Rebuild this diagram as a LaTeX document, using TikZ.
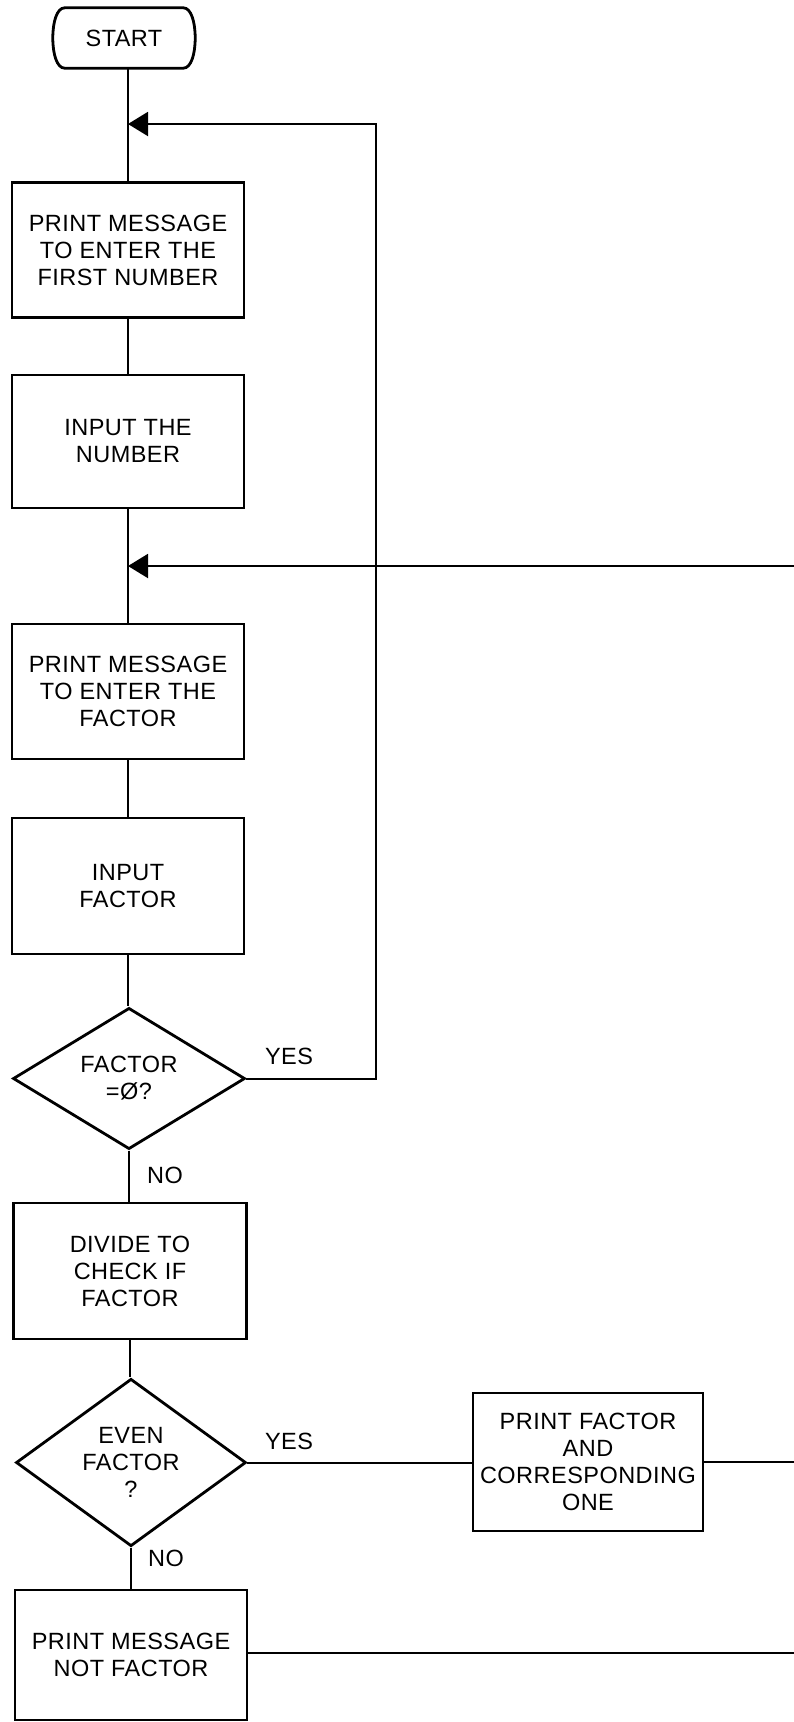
\documentclass[tikz,border=0pt]{standalone}
\usepackage{fontspec}
\setmainfont[LetterSpace=2]{Liberation Sans}
\usetikzlibrary{shapes.geometric,arrows.meta}
\newcommand{\chartfont}{\fontsize{23.5}{27}\selectfont}
\begin{document}
\begin{tikzpicture}[x=1pt,y=-1pt,
  box/.style={draw,line width=2.8pt,rectangle,minimum width=232pt,minimum height=135pt,align=center,inner sep=0pt,font=\chartfont},
  decision/.style={draw,line width=2.8pt,diamond,minimum width=232pt,minimum height=135pt,align=center,inner sep=0pt,font=\chartfont},
  conn/.style={line width=2pt},
  loopback/.style={line width=2pt,-{Triangle[length=20pt,width=24pt]}},
  lbl/.style={font=\chartfont,inner sep=0pt}
]
\useasboundingbox (0,0) rectangle (794,1722);
\fill[white] (0,0) rectangle (794,1722);

% start terminal
\node[font=\chartfont,minimum width=142pt,minimum height=60pt,inner sep=0pt] (start) at (124,38) {START};
\draw[line width=2.8pt]
  ([xshift=12pt]start.north west) -- ([xshift=-12pt]start.north east)
  .. controls ([xshift=-4pt]start.north east) and ([yshift=16pt]start.east) .. (start.east)
  .. controls ([yshift=-16pt]start.east) and ([xshift=-4pt]start.south east) .. ([xshift=-12pt]start.south east)
  -- ([xshift=12pt]start.south west)
  .. controls ([xshift=4pt]start.south west) and ([yshift=-16pt]start.west) .. (start.west)
  .. controls ([yshift=16pt]start.west) and ([xshift=4pt]start.north west) .. cycle;

\node[box] (b1) at (128,250) {PRINT MESSAGE\\TO ENTER THE\\FIRST NUMBER};
\node[box,minimum height=133pt] (b2) at (128,441.5) {INPUT THE\\NUMBER};
\node[box] (b3) at (128,691.5) {PRINT MESSAGE\\TO ENTER THE\\FACTOR};
\node[box,minimum height=136pt] (b4) at (128,886) {INPUT\\FACTOR};
\node[decision] (d1) at (129,1078.5) {FACTOR\\=Ø?};
\node[box,minimum width=233pt,minimum height=136pt] (b5) at (130,1271) {DIVIDE TO\\CHECK IF\\FACTOR};
\node[decision,minimum width=230pt] (d2) at (131,1462.5) {EVEN\\FACTOR\\?};
\node[box,minimum width=230pt,minimum height=138pt] (b6) at (588,1462) {PRINT FACTOR\\AND\\CORRESPONDING\\ONE};
\node[box,minimum width=232pt,minimum height=130pt] (b7) at (131,1655) {PRINT MESSAGE\\NOT FACTOR};

\coordinate (j1) at (128,124);
\coordinate (j2) at (128,566);
\coordinate (r1) at (376,1078.5);
\coordinate (r2) at (376,124);
\coordinate (e1) at (794,566);
\coordinate (e2) at (794,1462);
\coordinate (e3) at (794,1653);

\node[lbl] (yes1) at (289,1056) {YES};
\node[lbl] (no1) at (165,1175) {NO};
\node[lbl] (yes2) at (289,1441) {YES};
\node[lbl] (no2) at (166,1558) {NO};

\draw[conn] (start.south -| b1.north) -- (b1.north);
\draw[conn] (b1) -- (b2);
\draw[conn] (b2) -- (b3);
\draw[conn] (b3) -- (b4);
\draw[conn] (b4.south) -- (b4.south |- d1.north);
\draw[conn] (d1.south) -- (d1.south |- b5.north);
\draw[conn] (b5.south) -- (b5.south |- d2.north);
\draw[conn] (d2.south) -- (d2.south |- b7.north);
\draw[conn] (d2.east) -- (d2.east -| b6.west);
\draw[conn] (b6.east) -- (e2);
\draw[conn] (b7.east |- e3) -- (e3);
\draw[loopback] (d1.east) -- (r1) -- (r2) -- (j1);
\draw[loopback] (e1) -- (j2);
\end{tikzpicture}
\end{document}
